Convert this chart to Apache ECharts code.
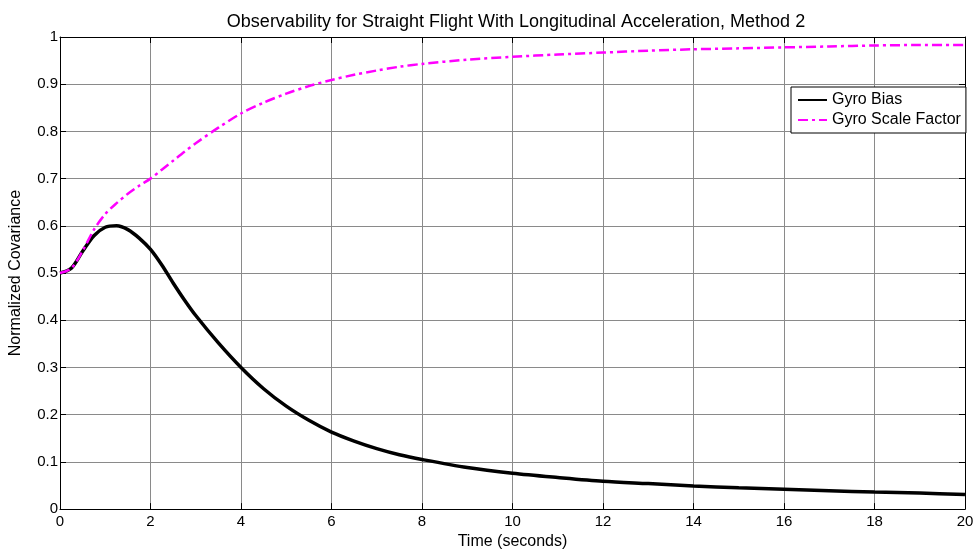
<!DOCTYPE html>
<html>
<head>
<meta charset="utf-8">
<script src="https://cdn.jsdelivr.net/npm/echarts@6/dist/echarts.min.js"></script>
<style>html,body{margin:0;padding:0;background:#fff;}#c{width:979px;height:555px;}</style>
</head>
<body>
<div id="c"></div>
<script>
var chartTitle = 'Observability for Straight Flight With Longitudinal Acceleration, Method 2';
var xName = 'Time (seconds)';
var yName = 'Normalized Covariance';
var seriesNames = ['Gyro Bias', 'Gyro Scale Factor'];
var time = [0,0.25,0.5,0.75,1.0,1.25,1.5,1.75,2.0,2.25,2.5,2.75,3.0,3.5,4.0,4.5,5.0,5.5,6.0,6.5,7.0,7.5,8.0,9,10,11,12,13,14,15,16,17,18,19,20];
var gyroBias = [0.5,0.510,0.546,0.579,0.597,0.600,0.592,0.574,0.550,0.517,0.479,0.443,0.410,0.352,0.300,0.255,0.218,0.188,0.163,0.144,0.128,0.115,0.105,0.088,0.076,0.067,0.059,0.054,0.049,0.045,0.042,0.039,0.036,0.034,0.031];
var gyroScale = [0.5,0.510,0.547,0.592,0.625,0.648,0.668,0.685,0.700,0.719,0.738,0.757,0.775,0.808,0.838,0.861,0.880,0.896,0.909,0.920,0.929,0.937,0.943,0.952,0.958,0.963,0.967,0.971,0.974,0.976,0.978,0.980,0.982,0.983,0.983];

function pairs(xs, ys){ return xs.map(function(x,i){ return [x, ys[i]]; }); }

var font = '"Liberation Sans", Arial, sans-serif';
var gridLine = {show:true, lineStyle:{color:'#8a8a8a', width:1}};
var chart = echarts.init(document.getElementById('c'), null, {renderer:'canvas'});
chart.setOption({
  animation:false,
  backgroundColor:'#fff',
  title:{text:chartTitle, left:511, top:8, textAlign:'center',
    textStyle:{fontFamily:font, fontSize:18, fontWeight:'normal', color:'#000'}},
  legend:{
    data:seriesNames, orient:'vertical', left:791, top:87,
    itemWidth:29, itemHeight:14, itemGap:4,
    padding:[5,5,5,6], borderColor:'#000', borderWidth:1, backgroundColor:'#fff', borderRadius:0,
    itemStyle:{opacity:0},
    textStyle:{fontFamily:font, fontSize:16, color:'#000'}
  },
  grid:{left:58, right:14, top:37, bottom:45, containLabel:false},
  xAxis:[{
    type:'value', min:0, max:20, interval:2, position:'bottom',
    name:xName, nameLocation:'middle', nameGap:24,
    nameTextStyle:{fontFamily:font, fontSize:16, color:'#000'},
    axisLine:{show:true, onZero:false, lineStyle:{color:'#000', width:1}},
    axisTick:{show:true, inside:true, length:6, lineStyle:{color:'#000'}},
    axisLabel:{fontFamily:font, fontSize:15, color:'#000', margin:5},
    splitLine:gridLine
  },{
    type:'value', min:0, max:20, interval:2, position:'top',
    axisLine:{show:true, onZero:false, lineStyle:{color:'#000', width:1}},
    axisTick:{show:true, inside:true, length:6, lineStyle:{color:'#000'}},
    axisLabel:{show:false}, splitLine:{show:false}
  }],
  yAxis:[{
    type:'value', min:0, max:1, interval:0.1, position:'left',
    name:yName, nameLocation:'middle', nameGap:36, nameRotate:90,
    nameTextStyle:{fontFamily:font, fontSize:16, color:'#000'},
    axisLine:{show:true, onZero:false, lineStyle:{color:'#000', width:1}},
    axisTick:{show:true, inside:true, length:6, lineStyle:{color:'#000'}},
    axisLabel:{fontFamily:font, fontSize:15, color:'#000', margin:2,
      formatter:function(v){ return String(Math.round(v*10)/10); }},
    splitLine:gridLine
  },{
    type:'value', min:0, max:1, interval:0.1, position:'right',
    axisLine:{show:true, onZero:false, lineStyle:{color:'#000', width:1}},
    axisTick:{show:true, inside:true, length:6, lineStyle:{color:'#000'}},
    axisLabel:{show:false}, splitLine:{show:false}
  }],
  series:[{
    name:seriesNames[0], type:'line', xAxisIndex:0, yAxisIndex:0,
    data:pairs(time, gyroBias), smooth:0.3, showSymbol:false, symbol:'none',
    lineStyle:{color:'#000', width:3.5}, itemStyle:{color:'#000'}, z:3
  },{
    name:seriesNames[1], type:'line', xAxisIndex:0, yAxisIndex:0,
    data:pairs(time, gyroScale), smooth:0.3, showSymbol:false, symbol:'none',
    lineStyle:{color:'#ff00ff', width:2.5, type:[10,4,3,4]}, itemStyle:{color:'#ff00ff'}, z:4
  }]
});
</script>
</body>
</html>
